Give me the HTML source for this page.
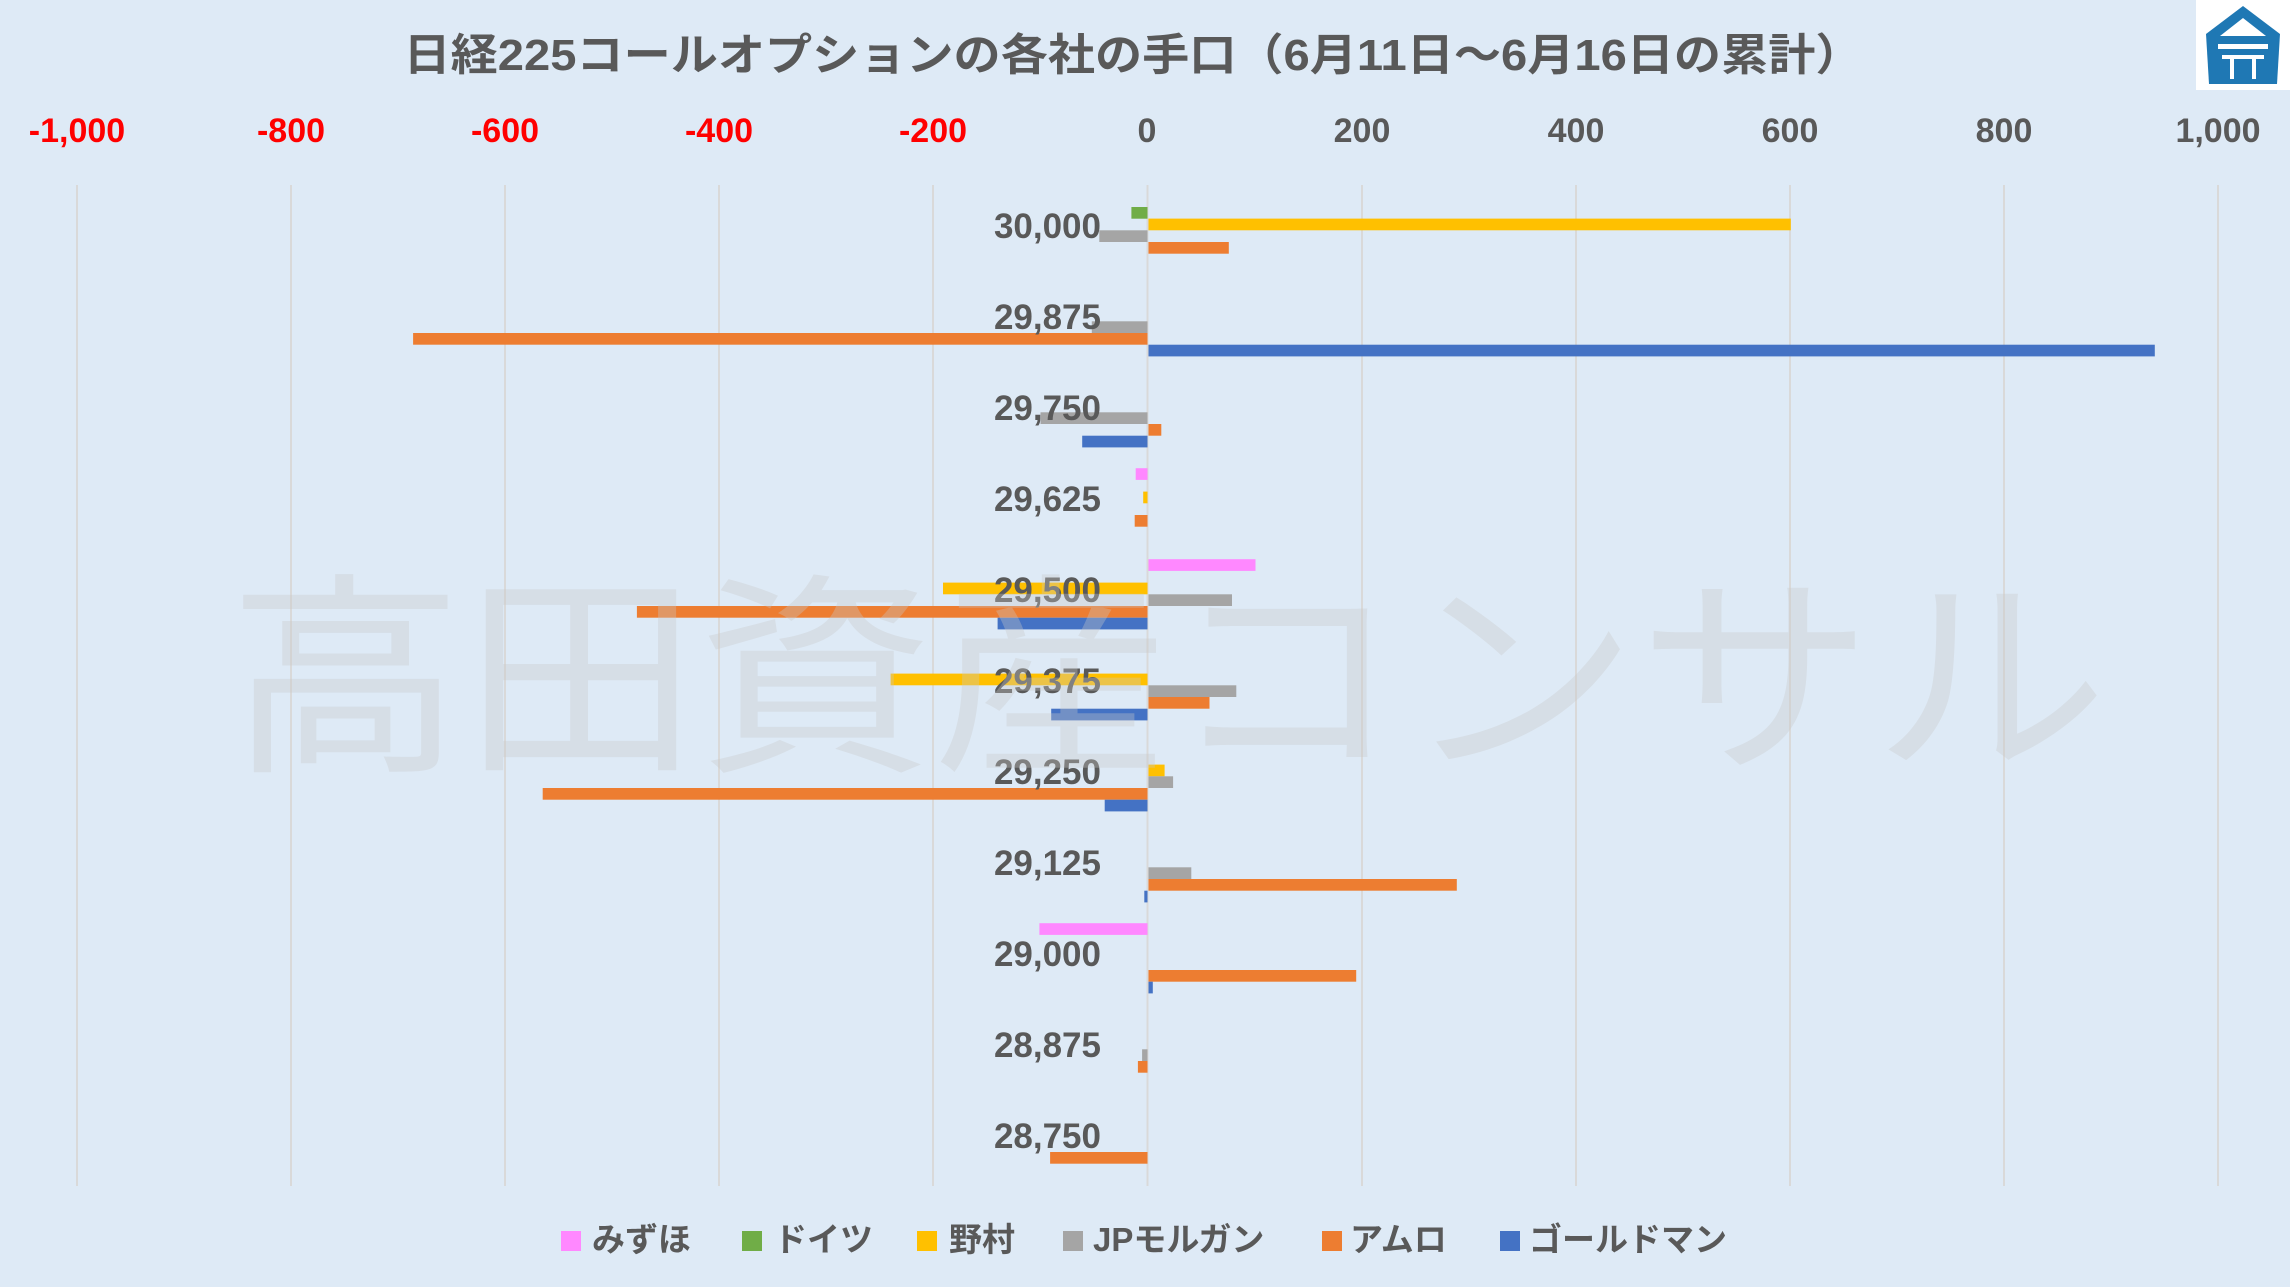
<!DOCTYPE html>
<html><head><meta charset="utf-8"><style>
html,body{margin:0;padding:0;background:#deeaf6;}
svg{display:block;}
text{font-family:"Liberation Sans","Noto Sans CJK JP",sans-serif;font-weight:bold;}
</style></head><body>
<svg width="2290" height="1287" viewBox="0 0 2290 1287" xmlns="http://www.w3.org/2000/svg">
<rect width="2290" height="1287" fill="#deeaf6"/>
<!-- logo -->
<rect x="2196" y="0" width="94" height="90" fill="#ffffff"/>
<polygon points="2243,6 2280,34 2277,84 2209,84 2206,34" fill="#1f78b4"/>
<polygon points="2243,18 2266,36 2220,36" fill="#ffffff"/>
<rect x="2218" y="44" width="50" height="5" fill="#fff"/>
<rect x="2222" y="55" width="42" height="4" fill="#fff"/>
<rect x="2230" y="59" width="4" height="20" fill="#fff"/>
<rect x="2252" y="59" width="4" height="20" fill="#fff"/>
<!-- title -->
<text x="1133" y="70" font-size="44" fill="#595959" text-anchor="middle" textLength="1459" lengthAdjust="spacingAndGlyphs">日経225コールオプションの各社の手口（6月11日～6月16日の累計）</text>
<!-- axis labels -->
<g font-size="34" text-anchor="middle">
<text x="77" y="142" fill="#ff0000">-1,000</text>
<text x="291" y="142" fill="#ff0000">-800</text>
<text x="505" y="142" fill="#ff0000">-600</text>
<text x="719" y="142" fill="#ff0000">-400</text>
<text x="933" y="142" fill="#ff0000">-200</text>
<text x="1147" y="142" fill="#595959">0</text>
<text x="1362" y="142" fill="#595959">200</text>
<text x="1576" y="142" fill="#595959">400</text>
<text x="1790" y="142" fill="#595959">600</text>
<text x="2004" y="142" fill="#595959">800</text>
<text x="2218" y="142" fill="#595959">1,000</text>
</g>
<!-- gridlines -->
<g stroke="#d9d9d9" stroke-width="2">
<line x1="77" y1="185" x2="77" y2="1186"/><line x1="291" y1="185" x2="291" y2="1186"/>
<line x1="505" y1="185" x2="505" y2="1186"/><line x1="719" y1="185" x2="719" y2="1186"/>
<line x1="933" y1="185" x2="933" y2="1186"/><line x1="1147.5" y1="185" x2="1147.5" y2="1186"/>
<line x1="1362" y1="185" x2="1362" y2="1186"/><line x1="1576" y1="185" x2="1576" y2="1186"/>
<line x1="1790" y1="185" x2="1790" y2="1186"/><line x1="2004" y1="185" x2="2004" y2="1186"/>
<line x1="2218" y1="185" x2="2218" y2="1186"/>
</g>
<!-- bars -->
<g>
<rect x="1131.4" y="207" width="16.1" height="11.7" fill="#70ad47"/>
<rect x="1148.5" y="218.6" width="642.3" height="11.7" fill="#ffc000"/>
<rect x="1099.3" y="230.3" width="48.2" height="11.7" fill="#a5a5a5"/>
<rect x="1148.5" y="242" width="80.3" height="11.7" fill="#ed7d31"/>

<rect x="1091.8" y="321.3" width="55.7" height="11.7" fill="#a5a5a5"/>
<rect x="413.1" y="333" width="734.4" height="11.7" fill="#ed7d31"/>
<rect x="1148.5" y="344.7" width="1006.3" height="11.7" fill="#4472c4"/>

<rect x="1040.5" y="412.3" width="107" height="11.7" fill="#a5a5a5"/>
<rect x="1148.5" y="424" width="12.8" height="11.7" fill="#ed7d31"/>
<rect x="1082.2" y="435.7" width="65.3" height="11.7" fill="#4472c4"/>

<rect x="1135.7" y="468.2" width="11.8" height="11.7" fill="#ff88ff"/>
<rect x="1143.2" y="491.6" width="4.3" height="11.7" fill="#ffc000"/>
<rect x="1134.7" y="515" width="12.8" height="11.7" fill="#ed7d31"/>

<rect x="1148.5" y="559.2" width="107" height="11.7" fill="#ff88ff"/>
<rect x="943" y="582.6" width="204.5" height="11.7" fill="#ffc000"/>
<rect x="1148.5" y="594.3" width="83.5" height="11.7" fill="#a5a5a5"/>
<rect x="636.9" y="606" width="510.6" height="11.7" fill="#ed7d31"/>
<rect x="997.6" y="617.7" width="149.9" height="11.7" fill="#4472c4"/>

<rect x="890.6" y="673.6" width="256.9" height="11.7" fill="#ffc000"/>
<rect x="1148.5" y="685.3" width="87.8" height="11.7" fill="#a5a5a5"/>
<rect x="1148.5" y="697" width="61" height="11.7" fill="#ed7d31"/>
<rect x="1051.2" y="708.7" width="96.3" height="11.7" fill="#4472c4"/>

<rect x="1148.5" y="764.6" width="16.1" height="11.7" fill="#ffc000"/>
<rect x="1148.5" y="776.3" width="24.6" height="11.7" fill="#a5a5a5"/>
<rect x="542.7" y="788" width="604.8" height="11.7" fill="#ed7d31"/>
<rect x="1104.7" y="799.7" width="42.8" height="11.7" fill="#4472c4"/>

<rect x="1148.5" y="867.3" width="42.8" height="11.7" fill="#a5a5a5"/>
<rect x="1148.5" y="879" width="308.3" height="11.7" fill="#ed7d31"/>
<rect x="1144.3" y="890.7" width="3.2" height="11.7" fill="#4472c4"/>

<rect x="1039.4" y="923.2" width="108.1" height="11.7" fill="#ff88ff"/>
<rect x="1148.5" y="970" width="207.7" height="11.7" fill="#ed7d31"/>
<rect x="1148.5" y="981.7" width="4.3" height="11.7" fill="#4472c4"/>

<rect x="1142.1" y="1049.3" width="5.4" height="11.7" fill="#a5a5a5"/>
<rect x="1137.9" y="1061" width="9.6" height="11.7" fill="#ed7d31"/>

<rect x="1050.1" y="1152" width="97.4" height="11.7" fill="#ed7d31"/>
</g>
<!-- category labels -->
<g font-size="35" fill="#595959" text-anchor="end">
<text x="1101" y="238">30,000</text>
<text x="1101" y="329">29,875</text>
<text x="1101" y="420">29,750</text>
<text x="1101" y="511">29,625</text>
<text x="1101" y="602">29,500</text>
<text x="1101" y="693">29,375</text>
<text x="1101" y="784">29,250</text>
<text x="1101" y="875">29,125</text>
<text x="1101" y="966">29,000</text>
<text x="1101" y="1057">28,875</text>
<text x="1101" y="1148">28,750</text>
</g>
<!-- watermark -->
<text x="1168" y="755" font-size="215" text-anchor="middle" fill="rgba(200,200,200,0.35)" style="font-weight:normal" textLength="1880" lengthAdjust="spacingAndGlyphs">高田資産コンサル</text>
<!-- legend -->
<g font-size="33" fill="#595959">
<rect x="561" y="1231" width="20" height="20" fill="#ff88ff"/><text x="592" y="1251">みずほ</text>
<rect x="742" y="1231" width="20" height="20" fill="#70ad47"/><text x="774" y="1251">ドイツ</text>
<rect x="917" y="1231" width="20" height="20" fill="#ffc000"/><text x="949" y="1251">野村</text>
<rect x="1063" y="1231" width="20" height="20" fill="#a5a5a5"/><text x="1093" y="1251">JPモルガン</text>
<rect x="1322" y="1231" width="20" height="20" fill="#ed7d31"/><text x="1350" y="1251">アムロ</text>
<rect x="1500" y="1231" width="20" height="20" fill="#4472c4"/><text x="1529" y="1251">ゴールドマン</text>
</g>
</svg>
</body></html>
